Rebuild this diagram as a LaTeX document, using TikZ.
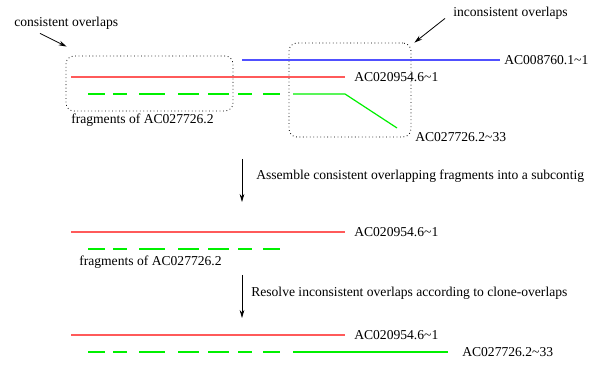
\documentclass[tikz,border=0pt]{standalone}
\usepackage{fontspec}
\setmainfont{Liberation Serif}
\usetikzlibrary{arrows.meta,calc}
\definecolor{fragred}{RGB}{255,90,90}
\definecolor{fragblue}{RGB}{80,80,255}
\definecolor{fraggreen}{RGB}{0,240,0}
\begin{document}
\begin{tikzpicture}[x=0.75pt,y=-0.75pt,font=\fontsize{10.2}{12}\selectfont]
        \tikzstyle{lbl}=[anchor=west,inner sep=0pt]
        \tikzstyle{redline}=[draw=fragred,line width=1pt]
        \tikzstyle{blueline}=[draw=fragblue,line width=1.2pt]
        \tikzstyle{greenline}=[draw=fraggreen,line width=0.9pt]
        \tikzstyle{olbox}=[draw,dotted,line width=0.6pt,rounded corners=6pt,inner sep=0pt]
        \tikzstyle{pil}=[draw,line width=0.6pt,-{Stealth[length=6pt,width=3.5pt]}]
        \useasboundingbox (0,0) rectangle (592,366);
       \begin{scope}
         % before assembly
         \node [olbox,minimum width=125.25pt,minimum height=41.25pt] (box1) at (149.5,83.5) {};
         \node [olbox,minimum width=91.5pt,minimum height=70.5pt] (box2) at (350,90) {};
         \node [lbl] (cons) at (14,23) {consistent overlaps};
         \node [lbl] (incons) at (453,13) {inconsistent overlaps};
         \path[pil] ($(cons.south west)+(26,4)$) -- ($(box1.north west)+(1,-9)$);
         \path[pil] ($(incons.south west)+(-8,-1)$) -- ($(box2.north east)+(3,0)$);
         \coordinate (b0) at (242,60);
         \coordinate (b1) at (500,60);
         \path[blueline] (b0) -- (b1);
         \node [lbl] (lb1) at (504,60) {AC008760.1\textasciitilde1};
         \coordinate (r0) at (71,77);
         \coordinate (r1) at (345,77);
         \path[redline] (r0) -- (r1);
         \node [lbl] (lr1) at (354,77) {AC020954.6\textasciitilde1};
         \foreach \a/\b in {88/105,113/127,139/165,178/199,208/229,238/252,263/280}
           \path[greenline] (\a,94) -- (\b,94);
         \coordinate (g0) at (293,94);
         \coordinate (g1) at (345,94);
         \coordinate (g2) at (397,128);
         \path[greenline] (g0) -- (g1) -- (g2);
         \node [lbl] (lg1) at (415,137) {AC027726.2\textasciitilde33};
         \node [lbl] (fr1) at (71,120) {fragments of AC027726.2};
        \end{scope}
       \begin{scope}
         % step 1
         \coordinate (s1a) at (242,159);
         \coordinate (s1b) at (242,202);
         \path[pil] (s1a) -- (s1b);
         \node [lbl] (st1) at (256,176) {Assemble consistent overlapping fragments into a subcontig};
         \coordinate (r2) at (71,232);
         \coordinate (r3) at (345,232);
         \path[redline] (r2) -- (r3);
         \node [lbl] (lr2) at (354,232) {AC020954.6\textasciitilde1};
         \foreach \a/\b in {88/105,113/127,139/165,178/199,208/229,238/252,263/280}
           \path[greenline] (\a,249) -- (\b,249);
         \node [lbl] (fr2) at (79,262) {fragments of AC027726.2};
        \end{scope}
       \begin{scope}
         % step 2
         \coordinate (s2a) at (242,275);
         \coordinate (s2b) at (242,318);
         \path[pil] (s2a) -- (s2b);
         \node [lbl] (st2) at (251,293) {Resolve inconsistent overlaps according to clone-overlaps};
         \coordinate (r4) at (71,335);
         \coordinate (r5) at (345,335);
         \path[redline] (r4) -- (r5);
         \node [lbl] (lr3) at (354,335) {AC020954.6\textasciitilde1};
         \foreach \a/\b in {88/105,113/127,139/165,178/199,208/229,238/252,263/280}
           \path[greenline] (\a,352) -- (\b,352);
         \coordinate (g3) at (293,352);
         \coordinate (g4) at (448,352);
         \path[greenline] (g3) -- (g4);
         \node [lbl] (lg2) at (462,352) {AC027726.2\textasciitilde33};
        \end{scope}
      \end{tikzpicture}
\end{document}
